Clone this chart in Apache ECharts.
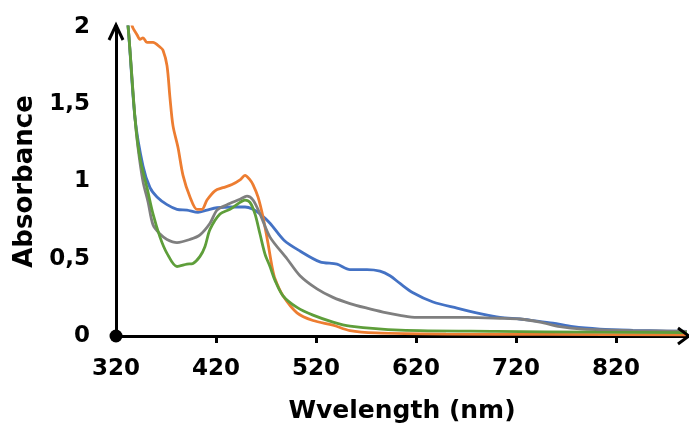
<!DOCTYPE html>
<html>
<head>
<meta charset="utf-8">
<script src="https://cdn.jsdelivr.net/npm/echarts@6/dist/echarts.min.js"></script>
<style>
html,body{margin:0;padding:0;background:#fff;}
#c{width:689px;height:429px;}
</style>
</head>
<body>
<div id="c"></div>
<script>
// ---- data ----
const xTicks = [320, 420, 520, 620, 720, 820];
const yTicks = [0, 0.5, 1, 1.5, 2];
const xName = 'Wvelength (nm)';
const yName = 'Absorbance';

const orangeWl  = [326, 336, 341, 344, 347, 351, 357, 364, 367, 371, 374, 377, 382, 387, 394, 401, 406, 411, 419, 427, 436, 444, 449, 454, 457, 462, 467, 472, 476, 479, 487, 501, 517, 537, 554, 580, 650, 750, 890];
const orangeAbs = [2.4, 2.01, 1.95, 1.92, 1.93, 1.90, 1.90, 1.87, 1.85, 1.75, 1.54, 1.36, 1.22, 1.04, 0.90, 0.82, 0.82, 0.88, 0.94, 0.96, 0.98, 1.01, 1.04, 1.01, 0.98, 0.90, 0.77, 0.60, 0.45, 0.37, 0.26, 0.15, 0.10, 0.07, 0.035, 0.02, 0.012, 0.01, 0.008];

const blueWl  = [324, 332, 339, 347, 354, 361, 371, 381, 391, 402, 411, 421, 437, 449, 457, 464, 474, 488, 504, 524, 541, 554, 571, 584, 594, 604, 617, 637, 661, 684, 704, 724, 737, 757, 777, 804, 837, 871, 891];
const blueAbs = [2.5, 2.01, 1.41, 1.10, 0.96, 0.90, 0.85, 0.82, 0.815, 0.80, 0.815, 0.83, 0.835, 0.835, 0.82, 0.79, 0.73, 0.62, 0.55, 0.48, 0.465, 0.43, 0.43, 0.42, 0.39, 0.34, 0.28, 0.22, 0.18, 0.145, 0.12, 0.11, 0.10, 0.083, 0.06, 0.045, 0.037, 0.032, 0.03];

const greyWl  = [324, 332, 339, 342, 347, 352, 357, 364, 371, 381, 394, 404, 414, 421, 431, 444, 451, 457, 464, 474, 491, 504, 521, 537, 554, 571, 587, 604, 621, 637, 671, 704, 724, 744, 764, 787, 837, 891];
const greyAbs = [2.5, 2.01, 1.41, 1.22, 1.0, 0.87, 0.72, 0.66, 0.625, 0.605, 0.625, 0.655, 0.73, 0.815, 0.85, 0.885, 0.905, 0.88, 0.79, 0.64, 0.50, 0.39, 0.305, 0.25, 0.21, 0.18, 0.155, 0.134, 0.12, 0.12, 0.12, 0.115, 0.11, 0.09, 0.06, 0.045, 0.035, 0.03];

const greenWl  = [324, 332, 339, 344, 351, 357, 364, 371, 381, 391, 397, 404, 409, 414, 424, 434, 444, 449, 454, 459, 464, 469, 474, 479, 487, 501, 517, 537, 554, 604, 700, 800, 891];
const greenAbs = [2.5, 2.01, 1.41, 1.15, 0.96, 0.79, 0.64, 0.535, 0.45, 0.465, 0.47, 0.515, 0.58, 0.69, 0.79, 0.82, 0.865, 0.88, 0.865, 0.79, 0.66, 0.53, 0.45, 0.36, 0.26, 0.185, 0.135, 0.09, 0.064, 0.038, 0.03, 0.025, 0.022];

// ---- chart ----
function pairs(xs, ys) { return xs.map((x, i) => [x, ys[i]]); }
const font = 'DejaVu Sans';
const X_MIN = 320, X_MAX = 892, Y_MIN = 0, Y_MAX = 2;

function line(name, color, xs, ys) {
  return {
    name, type: 'line', data: pairs(xs, ys), showSymbol: false, smooth: 0.3,
    lineStyle: { color, width: 2.8 }, itemStyle: { color }, clip: true
  };
}

const chart = echarts.init(document.getElementById('c'), null, { renderer: 'canvas' });
chart.setOption({
  animation: false,
  backgroundColor: '#ffffff',
  grid: { left: 116, right: 1, top: 27, bottom: 88, containLabel: false },
  xAxis: {
    type: 'value', min: X_MIN, max: X_MAX, interval: 100,
    name: xName, nameLocation: 'middle', nameGap: 63,
    nameTextStyle: { fontFamily: font, fontWeight: 'bold', fontSize: 25, color: '#000' },
    splitLine: { show: false },
    axisLine: { show: true, onZero: false, symbol: ['circle', 'none'], symbolSize: [13, 13],
      lineStyle: { color: '#000', width: 3 } },
    axisTick: { show: true, length: 7, lineStyle: { color: '#000', width: 3 }, customValues: xTicks.slice(1) },
    axisLabel: { customValues: xTicks, fontFamily: font, fontWeight: 'bold', fontSize: 23, color: '#000', margin: 22 }
  },
  yAxis: {
    type: 'value', min: Y_MIN, max: Y_MAX, interval: 0.5,
    name: yName, nameLocation: 'middle', nameGap: 78,
    nameTextStyle: { fontFamily: font, fontWeight: 'bold', fontSize: 26, color: '#000' },
    splitLine: { show: false },
    axisLine: { show: true, onZero: false, lineStyle: { color: '#000', width: 3 } },
    axisTick: { show: false },
    axisLabel: { customValues: yTicks, fontFamily: font, fontWeight: 'bold', fontSize: 23, color: '#000', margin: 26,
      formatter: v => String(v).replace('.', ',') }
  },
  series: [
    line('blue', '#4472C4', blueWl, blueAbs),
    line('orange', '#ED7D31', orangeWl, orangeAbs),
    line('grey', '#7F7F7F', greyWl, greyAbs),
    line('green', '#5E9E3A', greenWl, greenAbs)
  ]
});

// open chevron arrow heads at the axis ends
const pTop = chart.convertToPixel({ gridIndex: 0 }, [X_MIN, Y_MAX]);
const pRight = chart.convertToPixel({ gridIndex: 0 }, [X_MAX, Y_MIN]);
const ax = pTop[0], ay = pTop[1] - 2;
const bx = pRight[0] + 1, by = pRight[1];
chart.setOption({
  graphic: [
    { type: 'polyline', z: 100, shape: { points: [[ax - 7, ay + 15], [ax, ay], [ax + 7, ay + 15]] },
      style: { stroke: '#000', lineWidth: 3, fill: null, lineJoin: 'miter' } },
    { type: 'line', z: 100, shape: { x1: ax, y1: ay, x2: ax, y2: pTop[1] + 2 },
      style: { stroke: '#000', lineWidth: 3 } },
    { type: 'polyline', z: 100, shape: { points: [[bx - 11, by - 8], [bx, by], [bx - 11, by + 8]] },
      style: { stroke: '#000', lineWidth: 3, fill: null, lineJoin: 'miter' } }
  ]
});
</script>
</body>
</html>
